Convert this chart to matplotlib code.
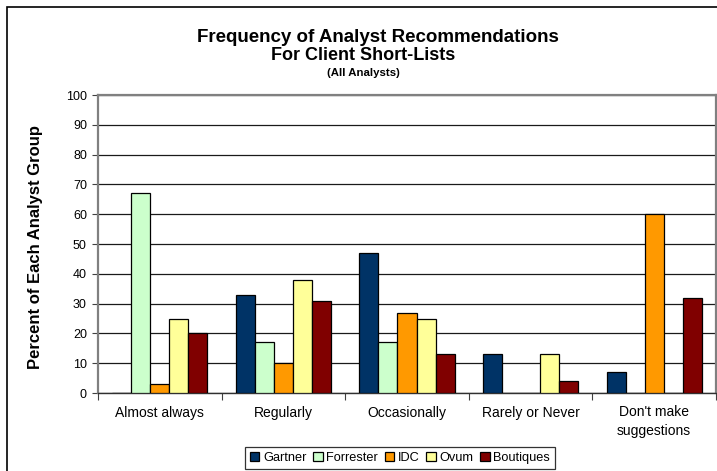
import matplotlib
matplotlib.use("Agg")
import matplotlib.pyplot as plt
import numpy as np
from matplotlib.patches import Rectangle

plt.rcParams['font.family'] = ['Liberation Sans', 'DejaVu Sans']

categories = ["Almost always", "Regularly", "Occasionally", "Rarely or Never", "Don't make\nsuggestions"]
series_names = ["Gartner", "Forrester", "IDC", "Ovum", "Boutiques"]
gartner = [0, 33, 47, 13, 7]
forrester = [67, 17, 17, 0, 0]
idc = [3, 10, 27, 0, 60]
ovum = [25, 38, 25, 13, 0]
boutiques = [20, 31, 13, 4, 32]
colors = ["#003366", "#CCFFCC", "#FF9900", "#FFFF99", "#800000"]
yticks = list(range(0, 101, 10))

fig = plt.figure(figsize=(7.17, 4.71), dpi=100)
W, H = 717, 471
ax = fig.add_axes([98 / W, 1 - 393 / H, (716 - 98) / W, (393 - 95) / H])

x = np.arange(len(categories))
bw = 0.154
all_series = [gartner, forrester, idc, ovum, boutiques]
for i, (name, vals, c) in enumerate(zip(series_names, all_series, colors)):
    ax.bar(x + (i - 2) * bw, vals, width=bw, color=c, edgecolor="black",
           linewidth=0.9, label=name, zorder=3)

ax.set_xlim(-0.5, len(categories) - 0.5)
ax.set_ylim(0, 100)
ax.set_yticks(yticks)
ax.set_yticklabels([str(v) for v in yticks], fontsize=9)
ax.tick_params(axis='y', direction='out', length=4, width=0.8, color='#404040', pad=4)
ax.set_xticks(x)
ax.set_xticklabels(categories, fontsize=10, linespacing=1.45)
ax.tick_params(axis='x', which='major', length=0, pad=9)
ax.set_xticks(np.arange(-0.5, len(categories), 1), minor=True)
ax.tick_params(axis='x', which='minor', direction='out', length=5, width=0.8, color='#404040')

ax.yaxis.grid(True, color='#1a1a1a', linewidth=0.9, zorder=0)
ax.set_axisbelow(True)
for s in ['top', 'right', 'left']:
    ax.spines[s].set_color('#808080')
    ax.spines[s].set_linewidth(1.6)
ax.spines['bottom'].set_color('#303030')
ax.spines['bottom'].set_linewidth(1.0)

fig.text(378 / W, 1 - 37 / H, "Frequency of Analyst Recommendations", ha='center', va='center',
         fontsize=13.5, fontweight='bold')
fig.text(363 / W, 1 - 55 / H, "For Client Short-Lists", ha='center', va='center',
         fontsize=13, fontweight='bold')
fig.text(363 / W, 1 - 73.5 / H, "(All Analysts)", ha='center', va='center',
         fontsize=8.2, fontweight='bold')
fig.text(36 / W, 1 - 247 / H, "Percent of Each Analyst Group", ha='center', va='center',
         rotation=90, fontsize=12, fontweight='bold')

leg = fig.legend(loc='center', bbox_to_anchor=(400 / W, 1 - 458 / H), ncol=5, fontsize=9.2,
                 frameon=True, fancybox=False, edgecolor='black', handlelength=0.75,
                 handleheight=0.75, handletextpad=0.3, columnspacing=0.5, borderpad=0.35,
                 borderaxespad=0)
leg.get_frame().set_linewidth(0.9)

fig.patches.append(Rectangle((7 / W, -0.1), 1.2, 1.1 - 7 / H, transform=fig.transFigure,
                             fill=False, edgecolor='black', linewidth=1.2))

fig.savefig("out.png", dpi=100)
